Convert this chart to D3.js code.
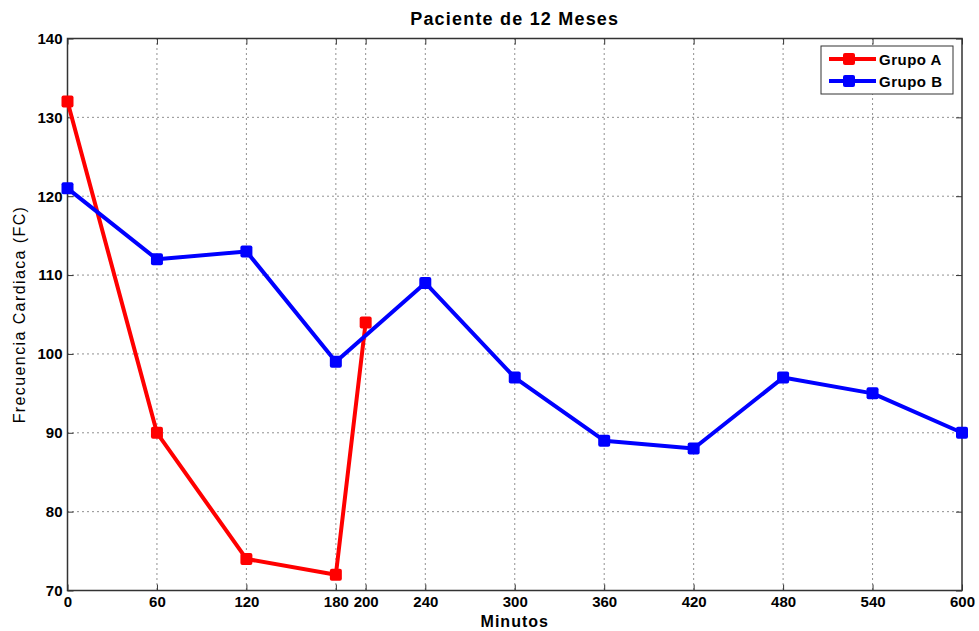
<!DOCTYPE html>
<html>
<head>
<meta charset="utf-8">
<script src="https://cdn.jsdelivr.net/npm/d3@7"></script>
<style>
  body { margin: 0; background: #fff; }
  text { font-family: "Liberation Sans", Arial, sans-serif; }
</style>
</head>
<body>
<div class="chart"></div>
<script>
// data
var xTicks = [0, 60, 120, 180, 200, 240, 300, 360, 420, 480, 540, 600];
var yTicks = [70, 80, 90, 100, 110, 120, 130, 140];

var minutosA = [0, 60, 120, 180, 200];
var grupoA = [132, 90, 74, 72, 104];

var minutosB = [0, 60, 120, 180, 240, 300, 360, 420, 480, 540, 600];
var grupoB = [121, 112, 113, 99, 109, 97, 89, 88, 97, 95, 90];

var series = [
    { name: "Grupo A", color: "#ff0000", x: minutosA, y: grupoA },
    { name: "Grupo B", color: "#0000ff", x: minutosB, y: grupoB }
];

var dim = {
    width: 979, height: 631,
    margin: { top: 38.5, right: 17, bottom: 40.5, left: 67.5 }
};
dim.plot = {
    width: dim.width - dim.margin.left - dim.margin.right,
    height: dim.height - dim.margin.top - dim.margin.bottom
};

var x = d3.scaleLinear().domain([0, 600]).range([0, dim.plot.width]);
var y = d3.scaleLinear().domain([70, 140]).range([dim.plot.height, 0]);

var svg = d3.select(".chart").append("svg")
    .attr("width", dim.width)
    .attr("height", dim.height);

svg.append("text")
    .attr("x", dim.margin.left + dim.plot.width / 2)
    .attr("y", 25)
    .attr("text-anchor", "middle")
    .style("font-weight", "bold")
    .style("font-size", "18px")
    .style("letter-spacing", "1.2px")
    .text("Paciente de 12 Meses");

var g = svg.append("g")
    .attr("transform", "translate(" + dim.margin.left + "," + dim.margin.top + ")");

// grid
g.append("g").selectAll("line").data(xTicks.filter(function(d) { return d > 0 && d < 600; }))
    .enter().append("line")
    .attr("x1", function(d) { return x(d); })
    .attr("x2", function(d) { return x(d); })
    .attr("y1", 0).attr("y2", dim.plot.height)
    .attr("stroke", "#222").attr("stroke-width", 1)
    .attr("stroke-dasharray", "1,4");

g.append("g").selectAll("line").data(yTicks.filter(function(d) { return d > 70 && d < 140; }))
    .enter().append("line")
    .attr("y1", function(d) { return y(d); })
    .attr("y2", function(d) { return y(d); })
    .attr("x1", 0).attr("x2", dim.plot.width)
    .attr("stroke", "#222").attr("stroke-width", 1)
    .attr("stroke-dasharray", "1,4");

// axes with inward ticks
var xAxis = d3.axisBottom(x).tickValues(xTicks).tickSizeInner(-6).tickSizeOuter(0).tickPadding(6);
var xAxisTop = d3.axisTop(x).tickValues(xTicks).tickSizeInner(-6).tickSizeOuter(0).tickFormat("");
var yAxis = d3.axisLeft(y).tickValues(yTicks).tickSizeInner(-6).tickSizeOuter(0).tickPadding(5);
var yAxisRight = d3.axisRight(y).tickValues(yTicks).tickSizeInner(-6).tickSizeOuter(0).tickFormat("");

function styleAxis(sel) {
    sel.select(".domain").remove();
    sel.selectAll("line").attr("stroke", "#333");
    sel.selectAll("text")
        .style("font-family", "'Liberation Sans', Arial, sans-serif")
        .style("font-size", "15px")
        .style("font-weight", "bold")
        .attr("fill", "#000");
}

g.append("g").attr("transform", "translate(0," + dim.plot.height + ")").call(xAxis).call(styleAxis);
g.append("g").call(xAxisTop).call(styleAxis);
g.append("g").call(yAxis).call(styleAxis);
g.append("g").attr("transform", "translate(" + dim.plot.width + ",0)").call(yAxisRight).call(styleAxis);

g.append("rect")
    .attr("width", dim.plot.width).attr("height", dim.plot.height)
    .attr("fill", "none").attr("stroke", "#333").attr("stroke-width", 1.5);

// lines
var line = d3.line()
    .x(function(d) { return x(d[0]); })
    .y(function(d) { return y(d[1]); });

var ms = 12;
series.forEach(function(s) {
    var pts = s.x.map(function(v, i) { return [v, s.y[i]]; });
    g.append("path")
        .datum(pts)
        .attr("d", line)
        .attr("fill", "none")
        .attr("stroke", s.color)
        .attr("stroke-width", 4)
        .attr("stroke-linejoin", "round");
    g.append("g").selectAll("rect").data(pts)
        .enter().append("rect")
        .attr("x", function(d) { return x(d[0]) - ms / 2; })
        .attr("y", function(d) { return y(d[1]) - ms / 2; })
        .attr("width", ms).attr("height", ms)
        .attr("rx", 2)
        .attr("fill", s.color);
});

// axis labels
svg.append("text")
    .attr("x", dim.margin.left + dim.plot.width / 2)
    .attr("y", 627)
    .attr("text-anchor", "middle")
    .style("font-weight", "bold")
    .style("font-size", "16px")
    .style("letter-spacing", "1px")
    .text("Minutos");

svg.append("text")
    .attr("transform", "translate(25," + (dim.margin.top + dim.plot.height / 2) + ") rotate(-90)")
    .attr("text-anchor", "middle")
    .style("font-size", "16px")
    .style("letter-spacing", "1.4px")
    .text("Frecuencia Cardiaca (FC)");

// legend
var legend = svg.append("g").attr("transform", "translate(821,46)");
legend.append("rect")
    .attr("width", 132).attr("height", 48)
    .attr("fill", "#fff").attr("stroke", "#333").attr("stroke-width", 1);

series.forEach(function(s, i) {
    var ly = 13 + i * 22;
    legend.append("line")
        .attr("x1", 8).attr("x2", 55)
        .attr("y1", ly).attr("y2", ly)
        .attr("stroke", s.color).attr("stroke-width", 4);
    legend.append("rect")
        .attr("x", 28 - ms / 2).attr("y", ly - ms / 2)
        .attr("width", ms).attr("height", ms).attr("rx", 2)
        .attr("fill", s.color);
    legend.append("text")
        .attr("x", 58).attr("y", ly + 5.5)
        .style("font-size", "15px")
        .style("font-weight", "bold")
        .style("letter-spacing", "0.5px")
        .text(s.name);
});
</script>
</body>
</html>
